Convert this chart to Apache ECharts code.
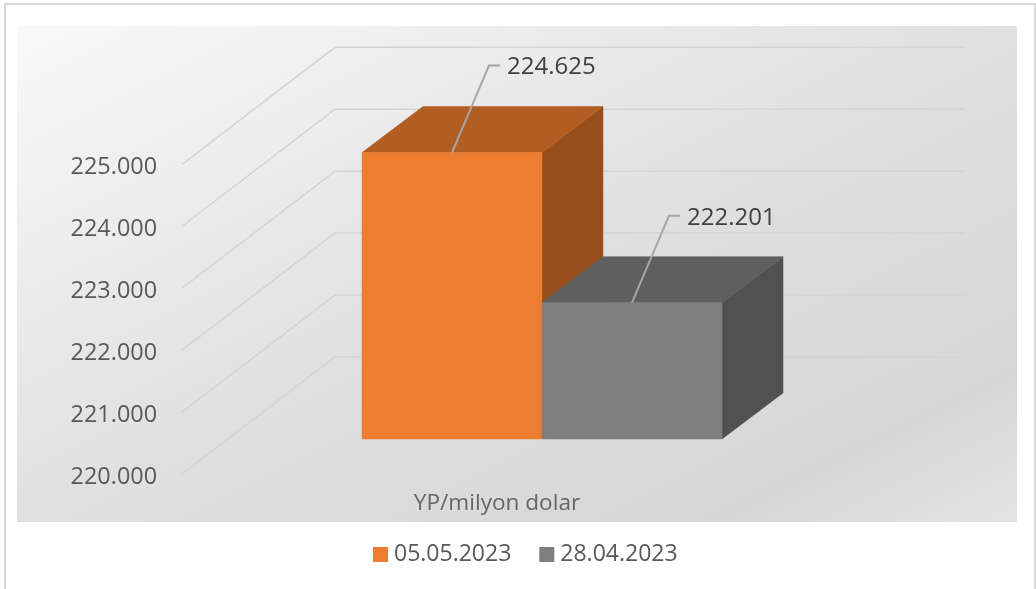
<!DOCTYPE html>
<html>
<head>
<meta charset="utf-8">
<style>html,body{margin:0;padding:0;background:#fff}#c{width:1036px;height:589px}</style>
<script src="https://cdn.jsdelivr.net/npm/echarts@6/dist/echarts.min.js"></script>
</head>
<body>
<div id="c"></div>
<script>
const categories = ['YP/milyon dolar'];
const seriesNames = ['05.05.2023', '28.04.2023'];
const values1 = [224625];
const values2 = [222201];
const yTicks = [220000, 221000, 222000, 223000, 224000, 225000];
const yMin = 220000, yMax = 225000, yStep = 1000;

const font = '"Open Sans","Noto Sans",sans-serif';
const fmt = v => { const s = String(v); return s.slice(0, s.length - 3) + '.' + s.slice(-3); };

const palettes = [
  { front: '#ED7D31', top: '#B25D22', side: '#964F1C' },
  { front: '#7F7F7F', top: '#5F5F5F', side: '#515151' }
];
const PLANE = [45, -35], DEPTH = [61, -46], WALL = [153, -117], WALL_END = 965, BAR_RATIO = 2 / 7;

function barSeries(idx, name, vals) {
  const pal = palettes[idx];
  return {
    type: 'custom', name, coordinateSystem: 'cartesian2d', silent: true, z: 3 + idx,
    itemStyle: { color: pal.front },
    encode: { x: 0, y: 1 },
    data: vals.map((v, i) => [i, v]),
    renderItem(params, api) {
      const p = api.coord([api.value(0), api.value(1)]);
      const base = api.coord([api.value(0), yMin]);
      const w = api.size([1, 0])[0] * BAR_RATIO;
      const x0 = p[0] + PLANE[0] + (idx - 1) * w, x1 = x0 + w;
      const yT = p[1] + PLANE[1], yB = base[1] + PLANE[1];
      const dx = DEPTH[0], dy = DEPTH[1];
      const poly = (pts, fill) => ({ type: 'polygon', shape: { points: pts }, style: { fill, stroke: fill, lineWidth: 0.5 } });
      const cx = (x0 + x1) / 2;
      return {
        type: 'group',
        children: [
          poly([[x1, yT], [x1 + dx, yT + dy], [x1 + dx, yB + dy], [x1, yB]], pal.side),
          poly([[x0, yT], [x0 + dx, yT + dy], [x1 + dx, yT + dy], [x1, yT]], pal.top),
          poly([[x0, yT], [x1, yT], [x1, yB], [x0, yB]], pal.front),
          { type: 'polyline', shape: { points: [[cx, yT], [cx + 37, yT - 87], [cx + 48, yT - 87]] },
            style: { stroke: '#A6A6A6', lineWidth: 2, fill: null } },
          { type: 'text', style: { x: cx + 55, y: yT - 85, text: fmt(api.value(1)), font: '500 24px ' + font,
            fill: '#404040', textAlign: 'left', textVerticalAlign: 'middle' } }
        ]
      };
    }
  };
}

const chart = echarts.init(document.getElementById('c'), null, { renderer: 'canvas' });
chart.setOption({
  animation: false,
  backgroundColor: '#fff',
  graphic: { elements: [
    { type: 'rect', z: -10, shape: { x: 17, y: 26, width: 1000, height: 496 }, silent: true,
      style: { fill: new echarts.graphic.LinearGradient(17, 26, 412, 822, [
        { offset: 0, color: '#F9F9F9' }, { offset: 0.5, color: '#E0E0E0' },
        { offset: 0.85, color: '#D6D6D6' }, { offset: 1, color: '#E4E4E4' }], true) } },
    { type: 'polyline', z: -10, silent: true, shape: { points: [[5, 589], [5, 4], [1035, 4], [1035, 589]] },
      style: { stroke: '#D9D9D9', lineWidth: 2, fill: null } }
  ] },
  grid: { left: 182, width: 630, top: 164.3, height: 309.7, containLabel: false },
  legend: {
    data: seriesNames, left: 373, top: 543, padding: 0, itemWidth: 15, itemHeight: 15, itemGap: 28, icon: 'rect',
    selectedMode: false,
    textStyle: { fontFamily: font, fontSize: 23, fontWeight: 500, color: '#595959', padding: [0, 0, 0, 1] }
  },
  xAxis: {
    type: 'category', data: categories,
    axisLine: { show: false }, axisTick: { show: false }, splitLine: { show: false },
    axisLabel: { fontFamily: font, fontSize: 22.6, fontWeight: 500, color: '#666666', margin: 18 }
  },
  yAxis: {
    type: 'value', min: yMin, max: yMax, interval: yStep,
    axisLine: { show: false }, axisTick: { show: false }, splitLine: { show: false },
    axisLabel: { fontFamily: font, fontSize: 23.4, fontWeight: 500, color: '#595959', margin: 25, formatter: fmt, verticalAlign: 'top', lineHeight: 7 }
  },
  series: [
    {
      type: 'custom', name: 'grid3d', silent: true, z: 1,
      encode: { x: 0, y: 1 },
      data: yTicks.map(v => [0, v]),
      renderItem(params, api) {
        const p = api.coord([api.value(0), api.value(1)]);
        const band = api.size([1, 0])[0];
        const x0 = p[0] - band / 2;
        return { type: 'polyline',
          shape: { points: [[x0, p[1]], [x0 + WALL[0], p[1] + WALL[1]], [WALL_END, p[1] + WALL[1]]] },
          style: { stroke: '#D4D4D4', lineWidth: 1.5, fill: null } };
      }
    },
    barSeries(0, seriesNames[0], values1),
    barSeries(1, seriesNames[1], values2)
  ]
});
</script>
</body>
</html>
